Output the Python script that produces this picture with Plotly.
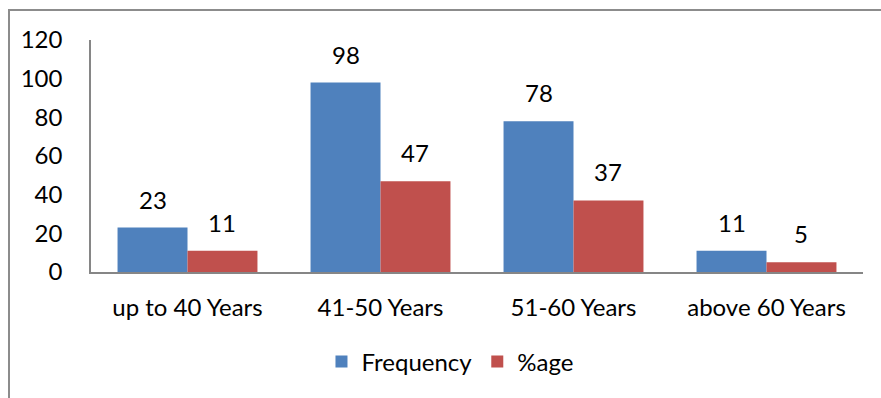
import plotly.graph_objects as go

# Age-group distribution of respondents
categories = ["up to 40 Years", "41-50 Years", "51-60 Years", "above 60 Years"]
frequency = [23, 98, 78, 11]
percentage = [11, 47, 37, 5]
y_ticks = [0, 20, 40, 60, 80, 100, 120]

BLUE = "#4F81BD"
RED = "#C0504D"
FONT = dict(family="Lato, Open Sans, sans-serif", size=24, color="#000000")

BARGAP = 0.275
half = (1 - BARGAP) / 4  # center offset of each bar inside its group

xs = list(range(len(categories)))

fig = go.Figure()
fig.add_trace(go.Bar(name="Frequency", x=xs, y=frequency, marker=dict(color=BLUE, line=dict(width=0))))
fig.add_trace(go.Bar(name="%age", x=xs, y=percentage, marker=dict(color=RED, line=dict(width=0))))

# value labels above each bar
annotations = []
for i in xs:
    for val, off in ((frequency[i], -half), (percentage[i], half)):
        annotations.append(dict(x=i + off, y=val, text=str(val), showarrow=False,
                                yanchor="bottom", yshift=12, font=FONT))

fig.update_layout(
    width=881, height=398,
    margin=dict(l=91, r=18, t=40, b=126),
    paper_bgcolor="white", plot_bgcolor="white",
    barmode="group", bargap=BARGAP, bargroupgap=0,
    font=FONT,
    showlegend=True,
    legend=dict(orientation="h", x=0.465, xanchor="center", y=-0.388, yanchor="middle",
                font=FONT, itemwidth=30, traceorder="normal"),
    annotations=annotations,
    xaxis=dict(range=[-0.5, len(categories) - 0.5], tickmode="array", tickvals=xs,
               ticktext=categories, showgrid=False, zeroline=False, showline=True,
               linecolor="#868686", linewidth=2, ticks="", ticklabelstandoff=13,
               tickfont=FONT),
    yaxis=dict(range=[0, 120], tickmode="array", tickvals=y_ticks, showgrid=False,
               zeroline=False, showline=True, linecolor="#868686", linewidth=1.5,
               ticks="", ticklabelstandoff=22, tickfont=FONT),
    shapes=[dict(type="rect", xref="paper", yref="paper",
                 x0=(9 - 91) / 772, x1=(900 - 91) / 772,
                 y0=(272 - 420) / 232, y1=(272 - 10) / 232,
                 line=dict(color="#8C8C8C", width=2), layer="below")],
)

fig.write_html("out.html")
